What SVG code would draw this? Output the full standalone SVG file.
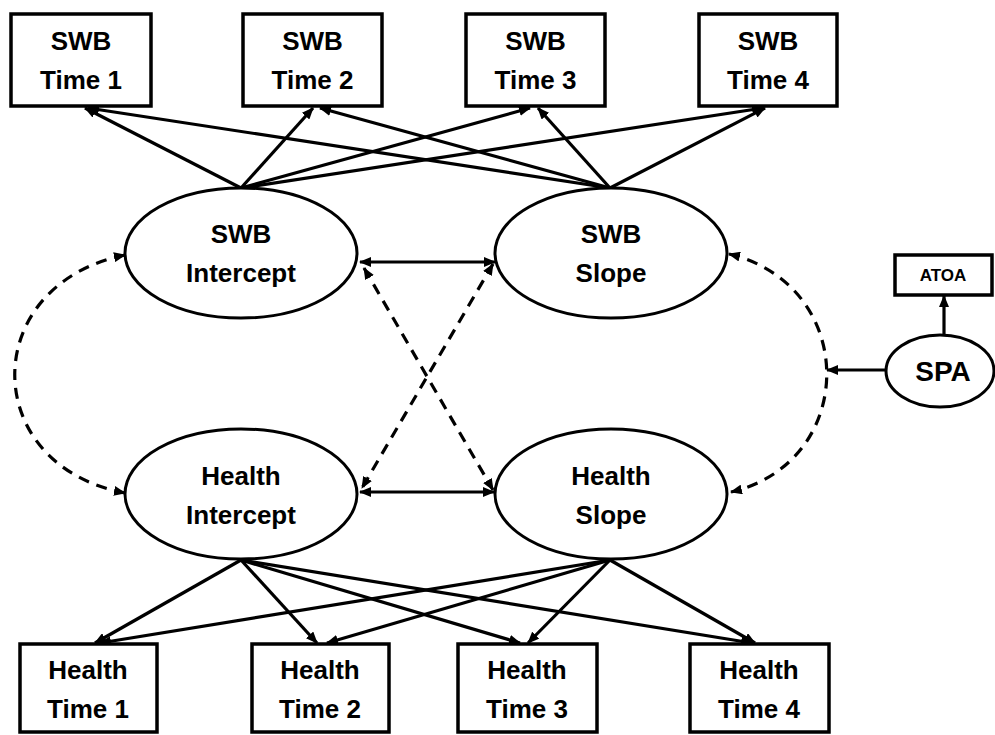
<svg xmlns="http://www.w3.org/2000/svg" width="995" height="735" viewBox="0 0 995 735">
<style>
.box{fill:#fff;stroke:#000;stroke-width:3.5}
.ell{fill:#fff;stroke:#000;stroke-width:3}
.t{font-family:"Liberation Sans",Arial,sans-serif;font-weight:bold;font-size:26px;text-anchor:middle;fill:#000}
.s{font-family:"Liberation Sans",Arial,sans-serif;font-weight:bold;font-size:17px;text-anchor:middle;fill:#000}
.c{fill:none;stroke:#000;stroke-width:3.2}
.d{fill:none;stroke:#000;stroke-width:3.2;stroke-dasharray:11 8}
</style>
<defs>
<marker id="ah" markerUnits="userSpaceOnUse" markerWidth="12" markerHeight="10" refX="11" refY="5" orient="auto-start-reverse">
<path d="M0,0 L12,5 L0,10 z" fill="#000"/>
</marker>
</defs>
<rect width="995" height="735" fill="#fff"/>
<g id="connectors">
<line class="c" x1="241" y1="188" x2="85" y2="108" marker-end="url(#ah)"/>
<line class="c" x1="241" y1="188" x2="313" y2="108" marker-end="url(#ah)"/>
<line class="c" x1="241" y1="188" x2="530" y2="108" marker-end="url(#ah)"/>
<line class="c" x1="241" y1="188" x2="763" y2="108" marker-end="url(#ah)"/>
<line class="c" x1="610" y1="188" x2="88" y2="108" marker-end="url(#ah)"/>
<line class="c" x1="610" y1="188" x2="320" y2="108" marker-end="url(#ah)"/>
<line class="c" x1="610" y1="188" x2="538" y2="108" marker-end="url(#ah)"/>
<line class="c" x1="610" y1="188" x2="765" y2="108" marker-end="url(#ah)"/>
<line class="c" x1="241" y1="560" x2="95" y2="643" marker-end="url(#ah)"/>
<line class="c" x1="241" y1="560" x2="317" y2="643" marker-end="url(#ah)"/>
<line class="c" x1="241" y1="560" x2="520" y2="643" marker-end="url(#ah)"/>
<line class="c" x1="241" y1="560" x2="752" y2="643" marker-end="url(#ah)"/>
<line class="c" x1="610" y1="560" x2="100" y2="643" marker-end="url(#ah)"/>
<line class="c" x1="610" y1="560" x2="327" y2="643" marker-end="url(#ah)"/>
<line class="c" x1="610" y1="560" x2="528" y2="643" marker-end="url(#ah)"/>
<line class="c" x1="610" y1="560" x2="755" y2="643" marker-end="url(#ah)"/>
<line class="c" x1="360" y1="262" x2="495" y2="262" marker-start="url(#ah)" marker-end="url(#ah)"/>
<line class="c" x1="360" y1="492" x2="494" y2="492" marker-start="url(#ah)" marker-end="url(#ah)"/>
<line class="d" x1="364" y1="268" x2="493" y2="490" marker-start="url(#ah)" marker-end="url(#ah)"/>
<line class="d" x1="493" y1="264" x2="362" y2="488" marker-start="url(#ah)" marker-end="url(#ah)"/>
<path class="d" d="M125,255 C-22,285 -22,465 125,493" marker-start="url(#ah)" marker-end="url(#ah)"/>
<path class="d" d="M729,254 C859,285 859,462 731,492" marker-start="url(#ah)" marker-end="url(#ah)"/>
<line class="c" x1="885" y1="370" x2="827" y2="370" marker-end="url(#ah)"/>
<line class="c" x1="944" y1="335" x2="944" y2="296" marker-end="url(#ah)"/>
</g>
<g id="swb1"><rect class="box" x="11" y="14" width="140" height="92"/><text class="t" x="81" y="50">SWB</text><text class="t" x="81" y="89">Time 1</text></g>
<g id="swb2"><rect class="box" x="243" y="14" width="139" height="92"/><text class="t" x="312.5" y="50">SWB</text><text class="t" x="312.5" y="89">Time 2</text></g>
<g id="swb3"><rect class="box" x="466" y="14" width="139" height="92"/><text class="t" x="535.5" y="50">SWB</text><text class="t" x="535.5" y="89">Time 3</text></g>
<g id="swb4"><rect class="box" x="699" y="14" width="138" height="92"/><text class="t" x="768" y="50">SWB</text><text class="t" x="768" y="89">Time 4</text></g>
<g id="swbInt"><ellipse class="ell" cx="241" cy="253" rx="116" ry="65"/><text class="t" x="241" y="243">SWB</text><text class="t" x="241" y="282">Intercept</text></g>
<g id="swbSlope"><ellipse class="ell" cx="611" cy="253" rx="116" ry="65"/><text class="t" x="611" y="243">SWB</text><text class="t" x="611" y="282">Slope</text></g>
<g id="hInt"><ellipse class="ell" cx="241" cy="494" rx="116" ry="65"/><text class="t" x="241" y="485">Health</text><text class="t" x="241" y="524">Intercept</text></g>
<g id="hSlope"><ellipse class="ell" cx="611" cy="494" rx="116" ry="65"/><text class="t" x="611" y="485">Health</text><text class="t" x="611" y="524">Slope</text></g>
<g id="h1"><rect class="box" x="20" y="644" width="137" height="88"/><text class="t" x="88" y="679">Health</text><text class="t" x="88" y="718">Time 1</text></g>
<g id="h2"><rect class="box" x="252" y="644" width="137" height="88"/><text class="t" x="320" y="679">Health</text><text class="t" x="320" y="718">Time 2</text></g>
<g id="h3"><rect class="box" x="458" y="644" width="139" height="88"/><text class="t" x="527" y="679">Health</text><text class="t" x="527" y="718">Time 3</text></g>
<g id="h4"><rect class="box" x="690" y="644" width="139" height="88"/><text class="t" x="759" y="679">Health</text><text class="t" x="759" y="718">Time 4</text></g>
<g id="spa"><ellipse class="ell" cx="940" cy="371" rx="54" ry="36"/><text class="t" x="943" y="381" style="font-size:28px">SPA</text></g>
<g id="atoa"><rect class="box" x="895" y="255" width="97" height="40"/><text class="s" x="943" y="281">ATOA</text></g>
</svg>
